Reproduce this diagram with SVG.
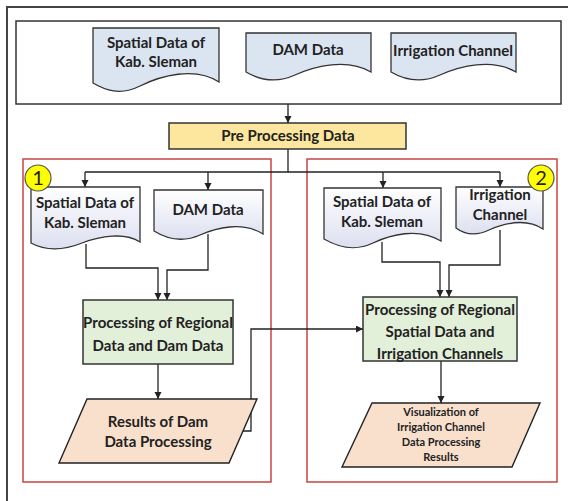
<svg xmlns="http://www.w3.org/2000/svg" width="568" height="501" viewBox="0 0 568 501">
<defs>
<linearGradient id="docg" x1="0" y1="0" x2="0" y2="1">
<stop offset="0" stop-color="#ffffff"/>
<stop offset="1" stop-color="#dcdff0"/>
</linearGradient>
<marker id="arr" markerUnits="userSpaceOnUse" markerWidth="8" markerHeight="8" refX="7" refY="3.5" orient="auto">
<path d="M0,0 L7,3.5 L0,7 z" fill="#222"/>
</marker>
</defs>
<style>
text{font-family:Lato,"Liberation Sans",sans-serif;font-weight:700;fill:#222;text-anchor:middle;font-size:15px}
.doct{fill:#dbe5f1;stroke:#333;stroke-width:1.3}
.doci{fill:url(#docg);stroke:#333;stroke-width:1.3}
.proc{fill:#e2efd9;stroke:#333;stroke-width:1.5}
.para{fill:#f9e0cc;stroke:#222;stroke-width:1.4}
.red{fill:none;stroke:#c9504f;stroke-width:1.6}
.con{fill:none;stroke:#222;stroke-width:1.3}
.circ{fill:#ffff00;stroke:#555;stroke-width:1.2}
.num{font-weight:400;font-size:20px;fill:#222}
.small{font-size:11px}
</style>
<rect width="568" height="501" fill="#fff"/>
<rect x="7" y="7" width="620" height="620" fill="none" stroke="#444" stroke-width="2"/>
<rect x="16" y="21" width="545" height="83" fill="none" stroke="#333" stroke-width="1.5"/>
<rect class="red" x="23" y="159" width="248" height="323"/>
<rect class="red" x="307" y="159" width="250" height="323"/>

<g id="connectors">
<path class="con" d="M288,104 V123" marker-end="url(#arr)"/>
<path class="con" d="M288,149 V172 H85"/>
<path class="con" d="M288,172 H500"/>
<path class="con" d="M85,172 V187" marker-end="url(#arr)"/>
<path class="con" d="M208,172 V190" marker-end="url(#arr)"/>
<path class="con" d="M383,172 V188" marker-end="url(#arr)"/>
<path class="con" d="M500,172 V187" marker-end="url(#arr)"/>
<path class="con" d="M86,244 V268 H158 V300" marker-end="url(#arr)"/>
<path class="con" d="M208,234 V270 H167 V300" marker-end="url(#arr)"/>
<path class="con" d="M382,242 V262 H440 V297" marker-end="url(#arr)"/>
<path class="con" d="M500,230 V265 H449 V297" marker-end="url(#arr)"/>
<path class="con" d="M158,364 V399" marker-end="url(#arr)"/>
<path class="con" d="M441,361 V403" marker-end="url(#arr)"/>
<path class="con" d="M243,431 H251 V329 H363" marker-end="url(#arr)"/>
</g>

<g id="doc-top-spatial">
<path class="doct" d="M93,28 H219 V82 C195,66 160,76 140,86 C120,96 105,90 93,83 Z"/>
<text x="156" y="48">Spatial Data of</text>
<text x="156" y="67">Kab. Sleman</text>
</g>
<g id="doc-top-dam">
<path class="doct" d="M246,33 H371 V72 C347,58 315,66 295,75 C275,84 258,79 246,72 Z"/>
<text x="308" y="55">DAM Data</text>
</g>
<g id="doc-top-irrigation">
<path class="doct" d="M391,33 H516 V72 C492,58 460,66 440,75 C420,84 403,79 391,72 Z"/>
<text x="453" y="56">Irrigation Channel</text>
</g>
<g id="pre-processing">
<rect x="169" y="123" width="237" height="26" fill="#fde79e" stroke="#333" stroke-width="1.5"/>
<text x="288" y="141">Pre Processing Data</text>
</g>

<g id="doc-l-spatial">
<path class="doci" d="M31,187 H140 V242 C125,232 100,236 82,243 C62,251 44,250 31,243 Z"/>
<text x="85" y="208">Spatial Data of</text>
<text x="85" y="228">Kab. Sleman</text>
</g>
<g id="doc-l-dam">
<path class="doci" d="M154,190 H263 V234 C242,221 216,228 200,235 C182,243 167,239 154,231 Z"/>
<text x="208" y="215">DAM Data</text>
</g>
<g id="doc-r-spatial">
<path class="doci" d="M324,188 H441 V241 C418,227 390,235 373,243 C354,252 338,247 324,239 Z"/>
<text x="382" y="207">Spatial Data of</text>
<text x="382" y="227">Kab. Sleman</text>
</g>
<g id="doc-r-irrigation">
<path class="doci" d="M456,187 H543 V229 C525,217 503,224 489,230 C474,237 464,234 456,228 Z"/>
<text x="500" y="200">Irrigation</text>
<text x="500" y="220">Channel</text>
</g>

<g id="proc-left">
<rect class="proc" x="83" y="300" width="150" height="64"/>
<text x="158" y="328">Processing of Regional</text>
<text x="158" y="351">Data and Dam Data</text>
</g>
<g id="proc-right">
<rect class="proc" x="363" y="297" width="154" height="64"/>
<text x="440" y="315">Processing of Regional</text>
<text x="440" y="337">Spatial Data and</text>
<text x="440" y="359">Irrigation Channels</text>
</g>

<g id="result-left">
<path class="para" d="M87,399 H257 L229,463 H59 Z"/>
<text x="158" y="427">Results of Dam</text>
<text x="158" y="447">Data Processing</text>
</g>
<g id="result-right">
<path class="para" d="M372,403 H540 L512,467 H342 Z"/>
<text class="small" x="441" y="416">Visualization of</text>
<text class="small" x="441" y="431">Irrigation Channel</text>
<text class="small" x="441" y="446">Data Processing</text>
<text class="small" x="441" y="461">Results</text>
</g>

<g id="badge-1">
<circle class="circ" cx="38" cy="178" r="13"/>
<text class="num" x="38" y="185">1</text>
</g>
<g id="badge-2">
<circle class="circ" cx="541" cy="178" r="13"/>
<text class="num" x="541" y="185">2</text>
</g>
</svg>
